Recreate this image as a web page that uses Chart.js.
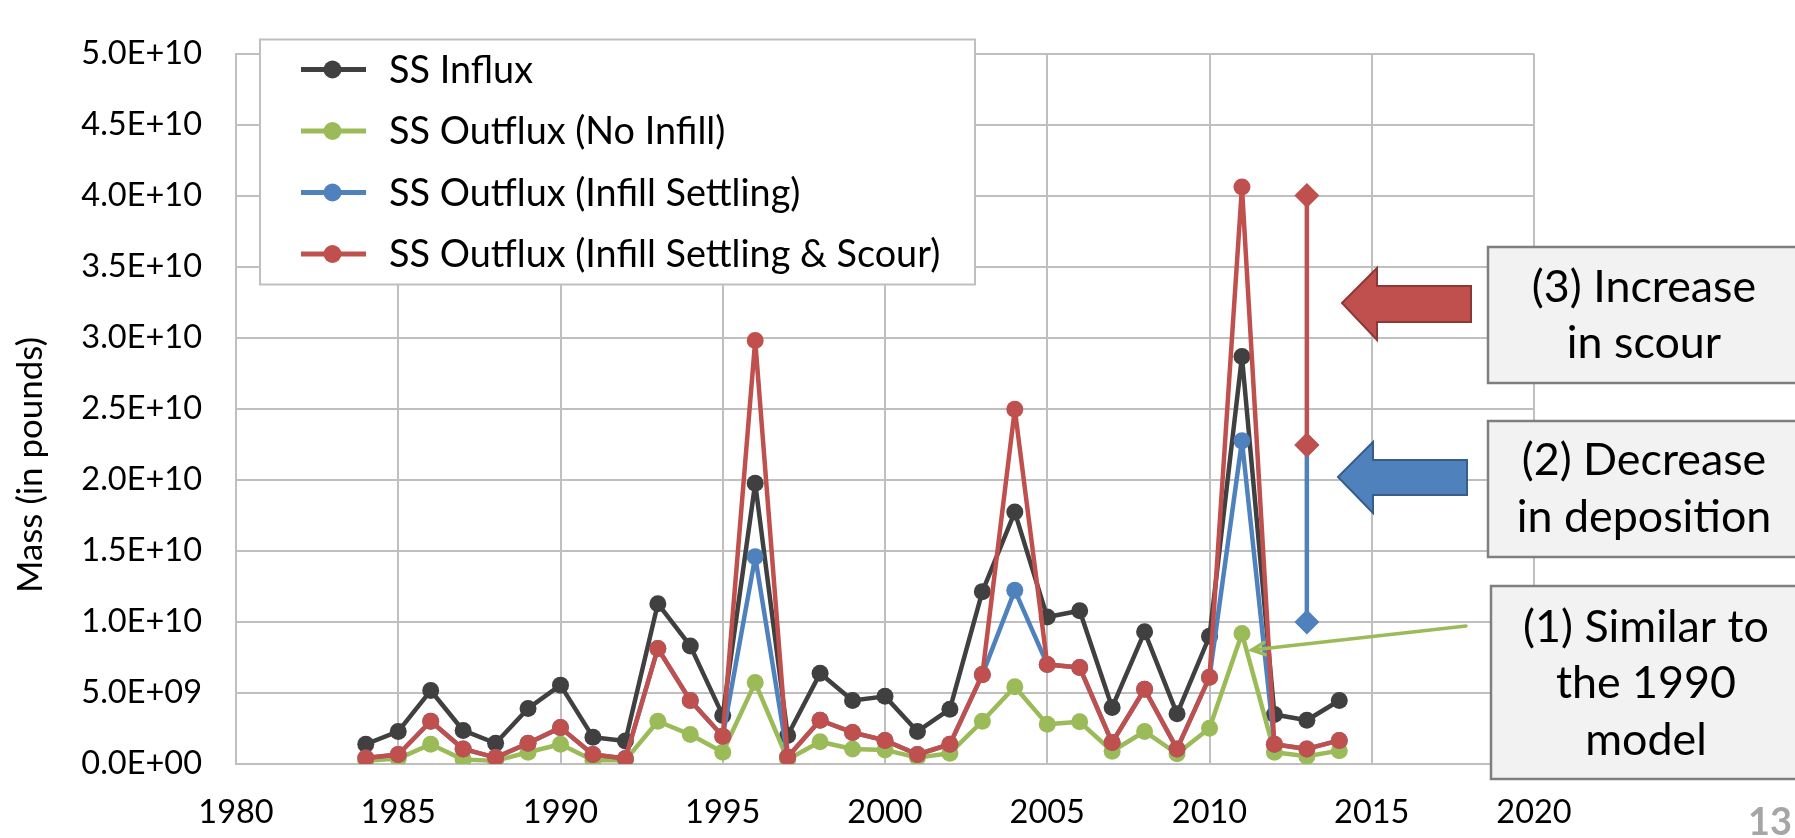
<!DOCTYPE html>
<html>
<head>
<meta charset="utf-8">
<title>SS Influx / Outflux</title>
<script src="https://cdn.jsdelivr.net/npm/chart.js@4.4.0/dist/chart.umd.min.js"></script>
<style>
  html, body { margin: 0; padding: 0; background: #ffffff; }
  #wrap { width: 1795px; height: 838px; position: relative; }
</style>
</head>
<body>
<div id="wrap"><canvas id="massChart" width="1795" height="838"></canvas></div>
<script>
// ---- data (mass in pounds) ----
const years = [1984, 1985, 1986, 1987, 1988, 1989, 1990, 1991, 1992, 1993, 1994,
               1995, 1996, 1997, 1998, 1999, 2000, 2001, 2002, 2003, 2004, 2005,
               2006, 2007, 2008, 2009, 2010, 2011, 2012, 2013, 2014];

const ssInflux = [1.39e9, 2.29e9, 5.17e9, 2.36e9, 1.46e9, 3.91e9, 5.55e9, 1.89e9, 1.62e9, 11.28e9, 8.31e9,
                  3.42e9, 19.75e9, 2.0e9, 6.38e9, 4.47e9, 4.76e9, 2.29e9, 3.86e9, 12.13e9, 17.73e9, 10.34e9,
                  10.79e9, 3.98e9, 9.3e9, 3.53e9, 8.99e9, 28.67e9, 3.48e9, 3.08e9, 4.47e9];

const ssOutNoInfill = [0.22e9, 0.38e9, 1.39e9, 0.31e9, 0.22e9, 0.83e9, 1.39e9, 0.27e9, 0.27e9, 3.01e9, 2.07e9,
                       0.83e9, 5.73e9, 0.31e9, 1.57e9, 1.06e9, 0.99e9, 0.45e9, 0.76e9, 3.01e9, 5.44e9, 2.79e9,
                       2.97e9, 0.9e9, 2.29e9, 0.72e9, 2.52e9, 9.19e9, 0.83e9, 0.54e9, 0.94e9];

const ssOutSettling = [0.43e9, 0.67e9, 3.01e9, 1.06e9, 0.45e9, 1.46e9, 2.56e9, 0.67e9, 0.38e9, 8.13e9, 4.47e9,
                       1.95e9, 14.58e9, 0.49e9, 3.08e9, 2.22e9, 1.66e9, 0.67e9, 1.39e9, 6.29e9, 12.22e9, 7.01e9,
                       6.79e9, 1.51e9, 5.26e9, 1.06e9, 6.11e9, 22.74e9, 1.39e9, 1.06e9, 1.66e9];

const ssOutScour = [0.43e9, 0.67e9, 3.01e9, 1.06e9, 0.45e9, 1.46e9, 2.56e9, 0.67e9, 0.38e9, 8.13e9, 4.47e9,
                    1.95e9, 29.8e9, 0.49e9, 3.08e9, 2.22e9, 1.66e9, 0.67e9, 1.39e9, 6.29e9, 24.96e9, 7.01e9,
                    6.79e9, 1.51e9, 5.26e9, 1.06e9, 6.11e9, 40.6e9, 1.39e9, 1.06e9, 1.66e9];

// 2011 comparison bars drawn at 2013
const rangeYear = 2013;
const depositionRange = [10.0e9, 22.45e9];
const scourRange = [22.45e9, 40.0e9];

const seriesLabels = ['SS Influx', 'SS Outflux (No Infill)', 'SS Outflux (Infill Settling)', 'SS Outflux (Infill Settling & Scour)'];
const seriesColors = ['#404040', '#9BBB59', '#4F81BD', '#C0504D'];

const FONT = 'Lato, Carlito, Calibri, "Open Sans", sans-serif';
const GRID = '#BFBFBF';

// pick a font size so a text gets the width it has on the slide
const measureCtx = document.createElement('canvas').getContext('2d');
function fitSize(text, width, weight) {
    measureCtx.font = (weight || 'normal') + ' 100px ' + FONT;
    return 100 * width / measureCtx.measureText(text).width;
}
const tickSize = (fitSize('5.0E+10', 123) + fitSize('1980', 74)) / 2;
const legendSize = fitSize(seriesLabels[3], 551);
const titleSize = fitSize('Mass (in pounds)', 256);
const calloutSize = (fitSize('(3) Increase', 224) + fitSize('(1) Similar to', 246)) / 2;
const pageSize = fitSize('13', 44, 'bold');

function toPoints(values) {
    return years.map((yr, i) => ({ x: yr, y: values[i] }));
}

// 5.0E+10 style labels
function sciLabel(v) {
    if (v === 0) return '0.0E+00';
    const e = Math.floor(Math.log10(v) + 1e-9);
    const m = v / Math.pow(10, e);
    return m.toFixed(1) + 'E+' + String(e).padStart(2, '0');
}

function seriesDataset(idx, values, order) {
    return {
        label: seriesLabels[idx],
        data: toPoints(values),
        borderColor: seriesColors[idx],
        backgroundColor: seriesColors[idx],
        pointBackgroundColor: seriesColors[idx],
        pointBorderWidth: 0,
        pointRadius: 8.5,
        borderWidth: 4.5,
        borderJoinStyle: 'round',
        tension: 0,
        order: order
    };
}

function rangeDataset(range, color, order) {
    return {
        label: '',
        data: range.map(v => ({ x: rangeYear, y: v })),
        borderColor: color,
        backgroundColor: color,
        pointBackgroundColor: color,
        pointBorderWidth: 0,
        pointStyle: 'rectRot',
        pointRadius: 12.5,
        borderWidth: 4.5,
        order: order
    };
}

function drawArrow(ctx, a, fill, stroke) {
    // left pointing block arrow
    ctx.beginPath();
    ctx.moveTo(a.tipX, a.cy);
    ctx.lineTo(a.headX, a.headTop);
    ctx.lineTo(a.headX, a.shaftTop);
    ctx.lineTo(a.endX, a.shaftTop);
    ctx.lineTo(a.endX, a.shaftBottom);
    ctx.lineTo(a.headX, a.shaftBottom);
    ctx.lineTo(a.headX, a.headBottom);
    ctx.closePath();
    ctx.fillStyle = fill;
    ctx.fill();
    ctx.lineWidth = 2;
    ctx.strokeStyle = stroke;
    ctx.stroke();
}

function drawCallout(ctx, box, lines, baselines, cx) {
    ctx.fillStyle = '#F2F2F2';
    ctx.fillRect(box.x, box.y, box.w, box.h);
    ctx.lineWidth = 2.5;
    ctx.strokeStyle = '#7F7F7F';
    ctx.strokeRect(box.x, box.y, box.w, box.h);
    ctx.fillStyle = '#000000';
    ctx.font = calloutSize.toFixed(1) + 'px ' + FONT;
    ctx.textAlign = 'center';
    ctx.textBaseline = 'alphabetic';
    lines.forEach((t, i) => ctx.fillText(t, cx, baselines[i]));
}

const overlayPlugin = {
    id: 'overlay',
    afterDraw(chart) {
        const ctx = chart.ctx;
        ctx.save();

        // legend box
        ctx.fillStyle = '#ffffff';
        ctx.fillRect(260, 39.5, 715, 245);
        ctx.strokeStyle = GRID;
        ctx.lineWidth = 2;
        ctx.strokeRect(260, 39.5, 715, 245);
        const rows = [69.5, 131, 192.5, 254];
        ctx.font = legendSize.toFixed(1) + 'px ' + FONT;
        ctx.textAlign = 'left';
        ctx.textBaseline = 'middle';
        seriesLabels.forEach((lbl, i) => {
            const y = rows[i];
            ctx.strokeStyle = seriesColors[i];
            ctx.lineWidth = 5;
            ctx.beginPath();
            ctx.moveTo(301, y);
            ctx.lineTo(366, y);
            ctx.stroke();
            ctx.fillStyle = seriesColors[i];
            ctx.beginPath();
            ctx.arc(332.5, y, 9, 0, Math.PI * 2);
            ctx.fill();
            ctx.fillStyle = '#000000';
            ctx.fillText(lbl, 389, y + 1);
        });

        // y axis title
        ctx.save();
        ctx.translate(42, 465);
        ctx.rotate(-Math.PI / 2);
        ctx.font = titleSize.toFixed(1) + 'px ' + FONT;
        ctx.textAlign = 'center';
        ctx.textBaseline = 'alphabetic';
        ctx.fillStyle = '#000000';
        ctx.fillText('Mass (in pounds)', 0, 0);
        ctx.restore();

        // arrows
        drawArrow(ctx, { tipX: 1342, cy: 303, headX: 1377, headTop: 268, headBottom: 340,
                         shaftTop: 286, shaftBottom: 322, endX: 1471 }, '#C0504D', '#8C3836');
        drawArrow(ctx, { tipX: 1338, cy: 477, headX: 1373, headTop: 442, headBottom: 513,
                         shaftTop: 460, shaftBottom: 495, endX: 1467 }, '#4F81BD', '#385D8A');

        // green pointer to the 2011 No Infill point
        ctx.strokeStyle = '#9BBB59';
        ctx.lineWidth = 3.5;
        ctx.lineCap = 'round';
        ctx.beginPath();
        ctx.moveTo(1466, 626);
        ctx.lineTo(1252, 650);
        ctx.stroke();
        const ang = Math.atan2(650 - 626, 1252 - 1466);
        ctx.beginPath();
        ctx.moveTo(1252 - 14 * Math.cos(ang - 0.45), 650 - 14 * Math.sin(ang - 0.45));
        ctx.lineTo(1252, 650);
        ctx.lineTo(1252 - 14 * Math.cos(ang + 0.45), 650 - 14 * Math.sin(ang + 0.45));
        ctx.stroke();

        // callout boxes
        drawCallout(ctx, { x: 1488, y: 247, w: 312, h: 136 }, ['(3) Increase', 'in scour'], [302, 358], 1644);
        drawCallout(ctx, { x: 1488, y: 421, w: 312, h: 136 }, ['(2) Decrease', 'in deposition'], [475, 532], 1644);
        drawCallout(ctx, { x: 1491, y: 586, w: 309, h: 193 }, ['(1) Similar to', 'the 1990', 'model'], [642, 698, 755], 1646);

        // slide number
        ctx.font = 'bold ' + pageSize.toFixed(1) + 'px ' + FONT;
        ctx.fillStyle = '#A6A6A6';
        ctx.textAlign = 'left';
        ctx.textBaseline = 'alphabetic';
        const capTop = ctx.measureText('13').actualBoundingBoxAscent;
        ctx.fillText('13', 1748, 807 + capTop);

        ctx.restore();
    }
};

const ctx = document.getElementById('massChart').getContext('2d');
window.massChart = new Chart(ctx, {
    type: 'line',
    data: {
        datasets: [
            seriesDataset(0, ssInflux, 4),
            seriesDataset(1, ssOutNoInfill, 3),
            seriesDataset(2, ssOutSettling, 2),
            seriesDataset(3, ssOutScour, 1),
            rangeDataset(depositionRange, '#4F81BD', 0.5),
            rangeDataset(scourRange, '#C0504D', 0)
        ]
    },
    options: {
        responsive: false,
        animation: false,
        devicePixelRatio: 1,
        layout: { padding: { left: 0, right: 261, top: 25.5, bottom: 0 } },
        plugins: {
            legend: { display: false },
            tooltip: { enabled: false }
        },
        scales: {
            x: {
                type: 'linear',
                min: 1980,
                max: 2020,
                ticks: {
                    stepSize: 5,
                    padding: 48.5 - 0.6 * tickSize,
                    color: '#000000',
                    font: { family: FONT, size: tickSize },
                    callback: v => String(v)
                },
                grid: { color: GRID, lineWidth: 2, drawTicks: false },
                border: { color: GRID, width: 2 },
                afterFit: s => { s.height = 74; }
            },
            y: {
                min: 0,
                max: 5e10,
                ticks: {
                    stepSize: 5e9,
                    padding: 34,
                    color: '#000000',
                    font: { family: FONT, size: tickSize },
                    callback: v => sciLabel(v)
                },
                grid: { color: GRID, lineWidth: 2, drawTicks: false },
                border: { color: GRID, width: 2 },
                afterFit: s => { s.width = 236; }
            }
        }
    },
    plugins: [overlayPlugin]
});
</script>
</body>
</html>
